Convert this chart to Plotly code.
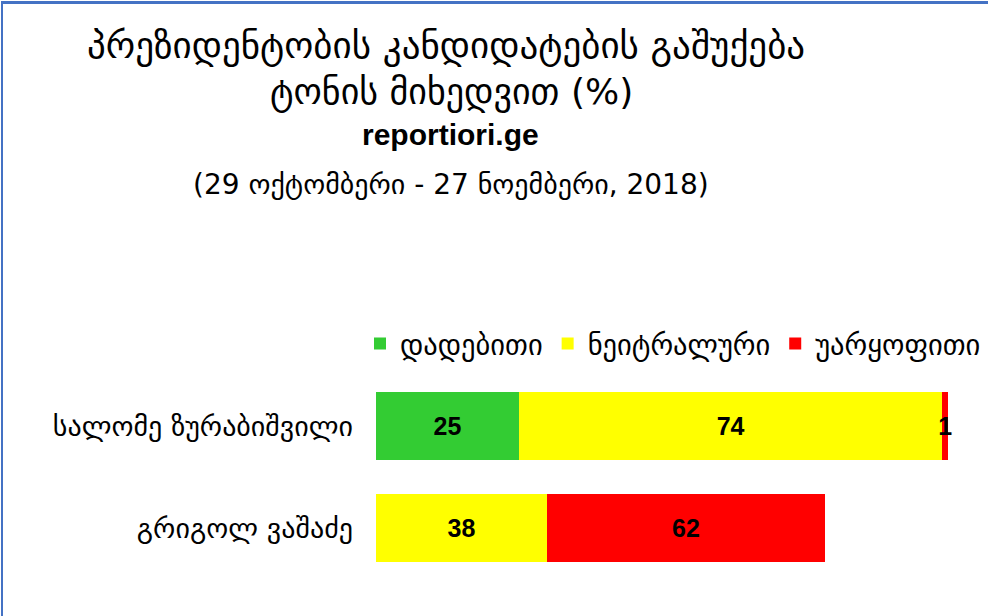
import plotly.graph_objects as go

categories = ["გრიგოლ ვაშაძე", "სალომე ზურაბიშვილი"]
series_names = ["დადებითი", "ნეიტრალური", "უარყოფითი"]
colors = ["#33CC33", "#FFFF00", "#FF0000"]
# percentage labels shown on the bars
labels_pos = [None, 25]
labels_neu = [38, 74]
labels_neg = [62, 1]
# bar lengths as drawn in the picture (bottom bar is drawn shorter)
len_pos = [0, 25]
len_neu = [29.9, 74]
len_neg = [48.6, 1]

title_lines = [
    "პრეზიდენტობის კანდიდატების გაშუქება",
    "ტონის მიხედვით (%)",
]
source = "reportiori.ge"
period = "(29 ოქტომბერი - 27 ნოემბერი, 2018)"

geo_font = "DejaVu Sans"
num_font = "Liberation Sans Narrow, Liberation Sans, Arial"

fig = go.Figure()
for name, col, lens, labs in [
    (series_names[0], colors[0], len_pos, labels_pos),
    (series_names[1], colors[1], len_neu, labels_neu),
    (series_names[2], colors[2], len_neg, labels_neg),
]:
    fig.add_trace(go.Bar(
        y=categories, x=lens, name=name, orientation="h",
        marker=dict(color=col, line=dict(width=0)),
        text=[("" if v is None else str(v)) for v in labs],
        textposition="inside", insidetextanchor="middle",
        constraintext="none", cliponaxis=False,
        textfont=dict(family=num_font, size=25, color="black", weight="bold"),
        width=0.667, hoverinfo="skip",
    ))

def py(px):
    return (579 - px) / 204

def pxx(px):
    return (px - 376) / 572

fig.update_layout(
    barmode="stack",
    width=988, height=616,
    margin=dict(l=376, r=40, t=375, b=37),
    paper_bgcolor="white", plot_bgcolor="white",
    showlegend=True,
    legend=dict(orientation="h", x=pxx(360), y=py(344), xanchor="left", yanchor="middle",
                font=dict(family=geo_font, size=28.5, color="black"),
                traceorder="normal", itemwidth=30,
                bgcolor="rgba(0,0,0,0)"),
    xaxis=dict(range=[0, 100], visible=False, fixedrange=True),
    yaxis=dict(type="category", categoryorder="array", categoryarray=categories,
               range=[-0.5, 1.5], showgrid=False, showline=False, zeroline=False,
               ticks="", ticklabelstandoff=22,
               tickfont=dict(family=geo_font, size=28, color="black")),
    font=dict(family=geo_font, color="black"),
)

# border of the picture (left and top edges visible)
fig.add_shape(type="rect", xref="paper", yref="paper",
              x0=pxx(1), x1=pxx(988), y0=py(4), y1=py(1),
              line=dict(width=0), fillcolor="#4472C4", layer="above")
fig.add_shape(type="rect", xref="paper", yref="paper",
              x0=pxx(1), x1=pxx(3), y0=py(616), y1=py(1),
              line=dict(width=0), fillcolor="#4472C4", layer="above")

fig.add_annotation(text=title_lines[0], x=pxx(446), y=py(45), xref="paper", yref="paper",
                   xanchor="center", yanchor="middle",
                   showarrow=False, font=dict(family=geo_font, size=37, color="black"))
fig.add_annotation(text=title_lines[1], x=pxx(451), y=py(92), xref="paper", yref="paper",
                   xanchor="center", yanchor="middle",
                   showarrow=False, font=dict(family=geo_font, size=36, color="black"))
fig.add_annotation(text="<b>" + source + "</b>", x=pxx(450), y=py(134), xref="paper", yref="paper",
                   xanchor="center", yanchor="middle",
                   showarrow=False, font=dict(family="Liberation Sans, Arial", size=30, color="black"))
fig.add_annotation(text=period, x=pxx(451), y=py(184), xref="paper", yref="paper",
                   xanchor="center", yanchor="middle",
                   showarrow=False, font=dict(family=geo_font, size=28, color="black"))

fig.write_html("out.html", config={"displayModeBar": False},
               post_script="document.body.style.margin='0';document.body.style.overflow='hidden';")
